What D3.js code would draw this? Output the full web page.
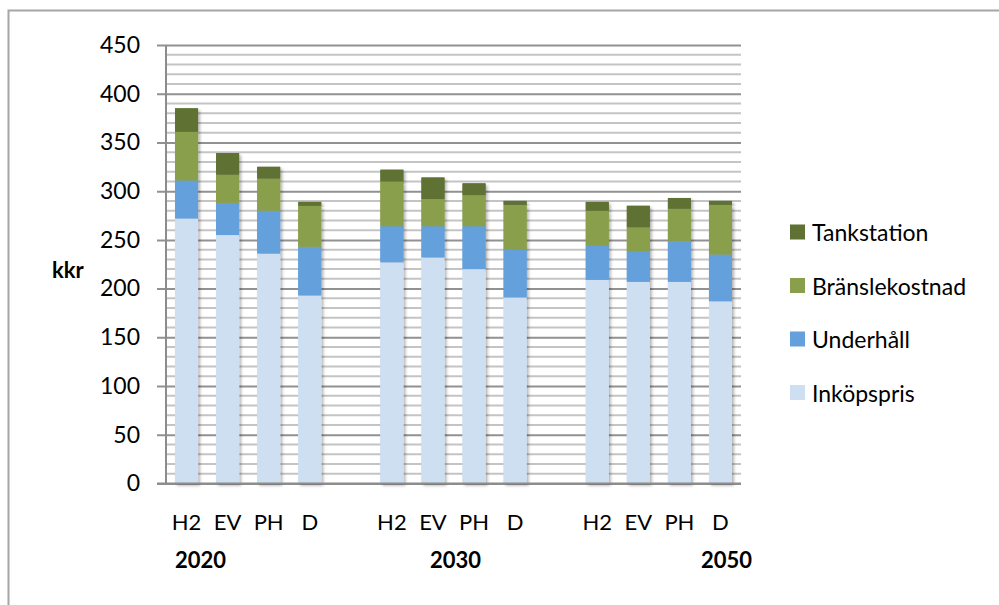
<!DOCTYPE html>
<html>
<head>
<meta charset="utf-8">
<script src="https://cdn.jsdelivr.net/npm/d3@7"></script>
<style>
  html, body { margin: 0; padding: 0; background: #fff; }
  svg { display: block; font-family: Lato, "Open Sans", sans-serif; }
</style>
</head>
<body>
<svg id="chart" width="999" height="605"></svg>
<script>
// Vehicle types per year group; empty slots separate the groups
const categories = ["H2", "EV", "PH", "D", "", "H2", "EV", "PH", "D", "", "H2", "EV", "PH", "D"];
const years = ["2020", "2030", "2050"];

// Cost components in kkr, bottom to top of each stack
const inkopspris     = [272, 255, 236, 193, null, 227, 232, 220, 191, null, 209, 207, 207, 187];
const underhall      = [ 39,  33,  44,  50, null,  37,  32,  44,  49, null,  35,  31,  42,  48];
const branslekostnad = [ 50,  29,  33,  42, null,  46,  28,  32,  46, null,  36,  25,  33,  51];
const tankstation    = [ 24,  22,  12,   4, null,  12,  22,  12,   4, null,   9,  22,  11,   4];

const seriesNames  = ["Inköpspris", "Underhåll", "Bränslekostnad", "Tankstation"];
const seriesValues = [inkopspris, underhall, branslekostnad, tankstation];
const seriesColors = ["#cddff1", "#64a0dc", "#8a9f4b", "#5f7133"];

const yTicks = [0, 50, 100, 150, 200, 250, 300, 350, 400, 450];

const svg = d3.select("#chart");

// Outer chart frame
svg.append("rect")
  .attr("x", 8.5).attr("y", 10.5)
  .attr("width", 1100).attr("height", 700)
  .attr("fill", "none").attr("stroke", "#a6a6a6").attr("stroke-width", 2);

const plot = { left: 166, right: 741, top: 45, bottom: 483.5 };

const x = d3.scaleBand()
  .domain(d3.range(categories.length))
  .range([plot.left, plot.right])
  .paddingInner(0.44)
  .paddingOuter(0.22);

const y = d3.scaleLinear().domain([0, 450]).range([plot.bottom, plot.top]);

const defs = svg.append("defs");
const shadow = defs.append("filter").attr("id", "barShadow")
  .attr("x", "-30%").attr("y", "-10%").attr("width", "160%").attr("height", "130%");
shadow.append("feDropShadow")
  .attr("dx", 2).attr("dy", 2).attr("stdDeviation", 1.8)
  .attr("flood-color", "#000").attr("flood-opacity", 0.3);

// Minor gridlines every 10
const minor = d3.range(10, 450, 10).filter(v => v % 50 !== 0);
svg.append("g").selectAll("line").data(minor).join("line")
  .attr("x1", plot.left).attr("x2", plot.right)
  .attr("y1", d => y(d)).attr("y2", d => y(d))
  .attr("stroke", "#c4c4c4").attr("stroke-width", 2);

// Major gridlines + ticks via a left axis
const yAxis = d3.axisLeft(y).tickValues(yTicks).tickSize(-(plot.right - plot.left)).tickSizeOuter(0).tickPadding(26);
const gy = svg.append("g").attr("transform", `translate(${plot.left},0)`).call(yAxis);
gy.select(".domain").remove();
gy.selectAll(".tick line")
  .attr("x1", -9)
  .attr("stroke", "#919191").attr("stroke-width", 2);
gy.selectAll(".tick text")
  .attr("font-size", 23).attr("fill", "#000")
  .attr("font-family", "Lato, 'Open Sans', sans-serif");

// Stacked bars
const stackData = categories.map((c, i) => {
  const row = { i };
  seriesNames.forEach((n, k) => row[n] = seriesValues[k][i] || 0);
  return row;
}).filter(r => seriesValues[0][r.i] !== null);

const stacked = d3.stack().keys(seriesNames)(stackData);

svg.append("g").selectAll("g").data(stacked).join("g")
  .attr("fill", (d, k) => seriesColors[k])
  .selectAll("rect").data(d => d).join("rect")
  .attr("x", d => x(d.data.i))
  .attr("width", x.bandwidth())
  .attr("y", d => y(d[1]))
  .attr("height", d => y(d[0]) - y(d[1]))
  .attr("filter", "url(#barShadow)");

// Redraw segments without shadow so shadows only show around stacks
svg.append("g").selectAll("g").data(stacked).join("g")
  .attr("fill", (d, k) => seriesColors[k])
  .selectAll("rect").data(d => d).join("rect")
  .attr("x", d => x(d.data.i))
  .attr("width", x.bandwidth())
  .attr("y", d => y(d[1]))
  .attr("height", d => y(d[0]) - y(d[1]));

// Vertical axis line and baseline
svg.append("line")
  .attr("x1", plot.left).attr("x2", plot.left)
  .attr("y1", plot.top).attr("y2", plot.bottom + 1)
  .attr("stroke", "#8c8c8c").attr("stroke-width", 2);
svg.append("line")
  .attr("x1", plot.left - 9).attr("x2", plot.right)
  .attr("y1", plot.bottom).attr("y2", plot.bottom)
  .attr("stroke", "#8c8c8c").attr("stroke-width", 2);

// Category labels
svg.append("g").selectAll("text").data(categories.map((c, i) => ({ c, i })).filter(d => d.c))
  .join("text")
  .attr("x", d => x(d.i) + x.bandwidth() / 2)
  .attr("y", 521)
  .attr("text-anchor", "middle")
  .attr("dominant-baseline", "central")
  .attr("font-size", 22)
  .text(d => d.c);

// Year group labels
const yearX = [175, 430, 701];
svg.append("g").selectAll("text").data(years).join("text")
  .attr("x", (d, i) => yearX[i])
  .attr("y", 559)
  .attr("dominant-baseline", "central")
  .attr("font-size", 22).attr("font-weight", "bold")
  .text(d => d);

// Axis title
svg.append("text")
  .attr("x", 52).attr("y", 269)
  .attr("dominant-baseline", "central")
  .attr("font-size", 22).attr("font-weight", "bold")
  .text("kkr");

// Legend (top entry is the top of the stack)
const legendItems = seriesNames.map((n, k) => ({ n, c: seriesColors[k] })).reverse();
const lg = svg.append("g").selectAll("g").data(legendItems).join("g")
  .attr("transform", (d, i) => `translate(790, ${232 + i * 53.5})`);
lg.append("rect").attr("x", 0).attr("y", -7.5).attr("width", 15).attr("height", 15)
  .attr("fill", d => d.c);
lg.append("text").attr("x", 22).attr("y", 0)
  .attr("dominant-baseline", "central")
  .attr("font-size", 23)
  .text(d => d.n);
</script>
</body>
</html>
